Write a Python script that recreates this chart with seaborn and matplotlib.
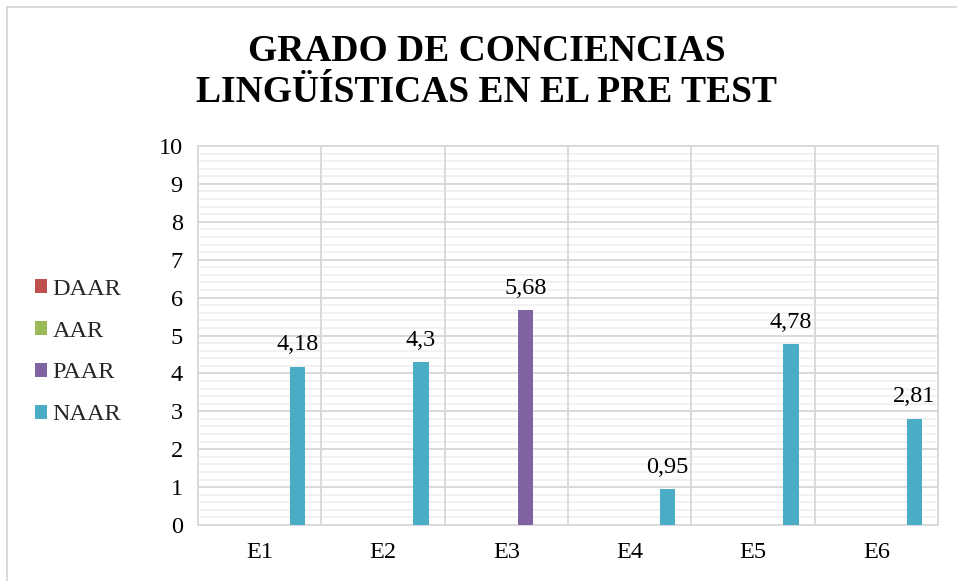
import matplotlib
matplotlib.use("Agg")
import matplotlib.pyplot as plt
from matplotlib.patches import Patch
from matplotlib.ticker import MultipleLocator
from matplotlib.lines import Line2D
import seaborn as sns
import pandas as pd

categories = ["E1", "E2", "E3", "E4", "E5", "E6"]
series = ["DAAR", "AAR", "PAAR", "NAAR"]
daar = [0, 0, 0, 0, 0, 0]
aar = [0, 0, 0, 0, 0, 0]
paar = [0, 0, 5.68, 0, 0, 0]
naar = [4.18, 4.3, 0, 0.95, 4.78, 2.81]
colors = ["#C0504D", "#9BBB59", "#8064A2", "#4BACC6"]
title = "GRADO DE CONCIENCIAS\nLINGÜÍSTICAS EN EL PRE TEST"

# hidden leading slot (the source chart reserves 5 slots per category)
blank = "_blank"
rows = []
for i, c in enumerate(categories):
    rows.append((c, blank, 0.0))
    for s, vals in zip(series, [daar, aar, paar, naar]):
        rows.append((c, s, vals[i]))
df = pd.DataFrame(rows, columns=["cat", "serie", "valor"])

sns.set_theme(style="white")
plt.rcParams["font.family"] = ["Liberation Serif", "DejaVu Serif"]

FS = 17.5
W, H = 957, 581
fig = plt.figure(figsize=(W / 100, H / 100), dpi=100)
ax = fig.add_axes([198 / W, 1 - 525 / H, (938 - 198) / W, (525 - 146) / H])

hue_order = [blank] + series
palette = dict(zip(hue_order, ["#FFFFFF"] + colors))
sns.barplot(data=df, x="cat", y="valor", hue="serie", hue_order=hue_order,
            order=categories, palette=palette, errorbar=None, width=0.77,
            gap=0.2, linewidth=0, legend=False, ax=ax, zorder=3, saturation=1)

ax.set_ylim(0, 10)
ax.set_xlim(-0.5, len(categories) - 0.5)
ax.yaxis.set_major_locator(MultipleLocator(1))
ax.yaxis.set_minor_locator(MultipleLocator(0.2))
ax.grid(axis="y", which="major", color="#D9D9D9", linewidth=1.4, zorder=1)
ax.grid(axis="y", which="minor", color="#EFEFEF", linewidth=1.2, zorder=0)
for k in range(1, len(categories)):
    ax.axvline(k - 0.5, color="#D9D9D9", linewidth=1.4, zorder=1)
for side in ["left", "right", "top", "bottom"]:
    ax.spines[side].set_visible(True)
    ax.spines[side].set_color("#D9D9D9")
    ax.spines[side].set_linewidth(1.4)
ax.set_xlabel("")
ax.set_ylabel("")
ax.tick_params(axis="y", which="both", length=0, pad=11, labelsize=FS, labelcolor="#000000")
ax.tick_params(axis="x", length=0, pad=12, labelsize=FS, labelcolor="#000000")

# value labels (only for non-zero bars)
for cont, name in zip(ax.containers, hue_order):
    labels = []
    for bar in cont:
        h = bar.get_height()
        labels.append(("%g" % h).replace(".", ",") if h > 0 else "")
    ax.bar_label(cont, labels=labels, padding=8, fontsize=FS, color="#000000")

handles = [Patch(facecolor=c, edgecolor="none") for c in colors]
fig.legend(handles, series, loc="center left", bbox_to_anchor=(35 / W, 1 - 352 / H),
           frameon=False, fontsize=FS, handlelength=0.5, handleheight=0.5,
           handletextpad=0.22, labelspacing=0.86, borderpad=0, borderaxespad=0)

fig.text(487 / W, 1 - 72 / H, title, ha="center", va="center", fontsize=27,
         fontweight="bold", linespacing=1.22, color="#000000")

# chart-area border
fig.add_artist(Line2D([7 / W, 7 / W], [0, 1 - 7 / H], color="#D9D9D9", linewidth=1.4))
fig.add_artist(Line2D([7 / W, 1], [1 - 7 / H, 1 - 7 / H], color="#D9D9D9", linewidth=1.4))

fig.savefig("out.png", dpi=100, facecolor="white")
